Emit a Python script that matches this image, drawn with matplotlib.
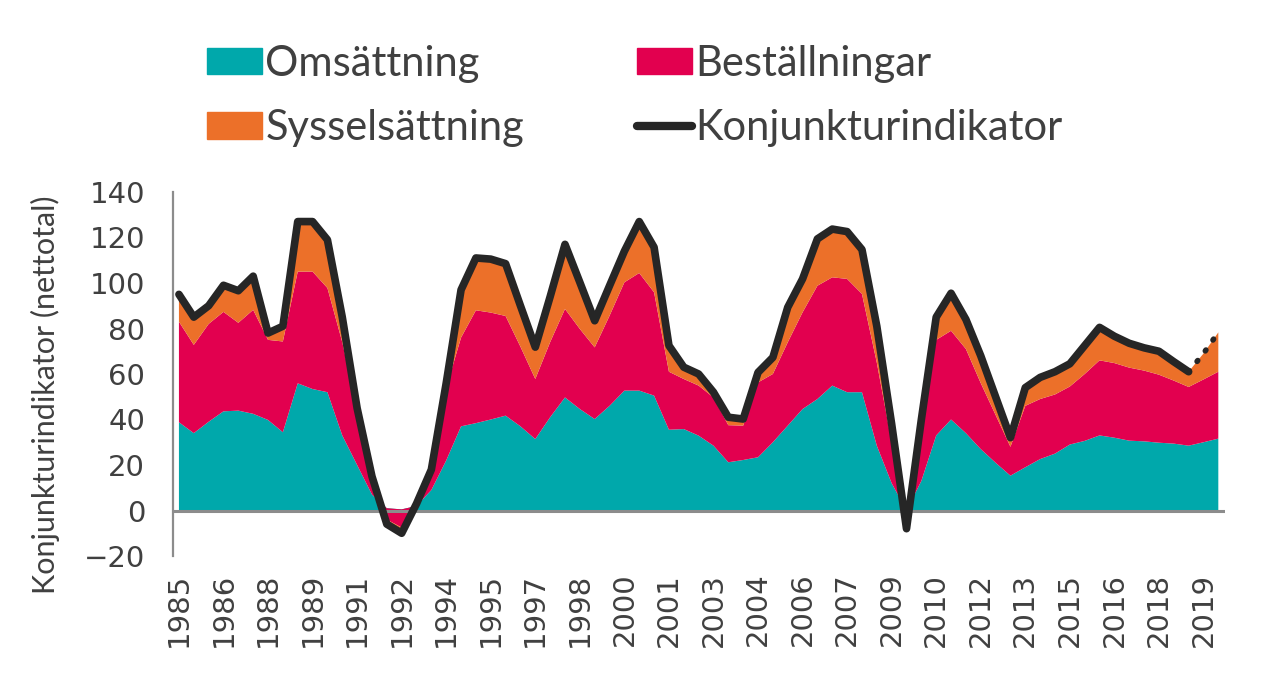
import numpy as np
import matplotlib.pyplot as plt
from matplotlib.patches import Patch
from matplotlib.lines import Line2D

plt.rcParams['font.family'] = ['Lato', 'DejaVu Sans']

# halvårsvärden 1985 H1 - 2020 H1 (nettotal)
omsattning = [38.8, 34, 39, 43.6, 43.9, 42.5, 39.8, 34.4, 55.9, 53.4,
              52, 33, 20, 7, 1, 0.5, 2, 9, 22, 37,
              38.4, 40, 41.7, 37, 31.4, 41, 49.7, 44.6, 40.2, 46,
              52.7, 52.7, 50.5, 35.5, 35.8, 32.9, 28.5, 21.2, 22.2, 23.4,
              30, 37.3, 44.6, 49, 54.9, 52, 52, 28.5, 12, 0,
              13, 33, 40, 34, 27, 21, 15.3, 19, 22.6, 25,
              29, 30.6, 33, 32, 30.7, 30.4, 29.8, 29.4, 28.5, 30,
              31.6]
bestallningar = [44.2, 38.8, 43, 43.7, 38.6, 45.7, 35.2, 39.9, 49.1, 51.6,
                 45.8, 41, 24, 7.5, -5, -8, 1, 7, 32, 39,
                 49.6, 47, 43.8, 35, 26.4, 33, 38.9, 35.2, 31.5, 39.6,
                 47.6, 51.7, 45.4, 25.5, 22, 22, 21.2, 16.3, 15.1, 32.9,
                 30, 36.6, 42.5, 49.8, 47.6, 49.8, 43.2, 36.5, 18, -5,
                 24, 42, 39, 37, 29, 21, 12.7, 27, 26.4, 26,
                 25.5, 29.4, 33, 32.8, 32.1, 31.1, 29.9, 27.7, 25.8, 27.6,
                 29.4]
sysselsattning = [12, 12.2, 8, 11.7, 14.1, 14.8, 3, 6.7, 22, 22,
                  21.2, 11, 1, 0.5, -2, -2.5, 0, 2, 2, 21,
                  23, 23.5, 23, 18, 14, 20, 28.4, 20.5, 11.7, 13.2,
                  13.7, 22.6, 19.8, 11.5, 5.2, 5.1, 2.3, 3.5, 2.9, 4.4,
                  7.3, 15.4, 14.7, 20.6, 21.2, 20.8, 19.5, 16, 8, -3,
                  3, 10, 16.5, 13, 12, 8, 4, 8, 9.5, 10,
                  10, 12.5, 14.5, 11.8, 10.7, 10, 10.3, 8.3, 6.7, 11.4,
                  17.3]
konjunktur = [95, 85, 90, 99, 96.6, 103, 78, 81, 127, 127,
              119, 85, 45, 15, -6, -10, 3, 18, 56, 97,
              111, 110.5, 108.5, 90, 71.8, 94, 117, 100.3, 83.4, 98.8,
              114, 127, 115.7, 72.5, 63, 60, 52, 41, 40.2, 60.7,
              67.3, 89.3, 101.8, 119.4, 123.7, 122.6, 114.7, 81, 38, -8,
              40, 85, 95.5, 84, 68, 50, 32, 54, 58.5, 61,
              64.5, 72.5, 80.5, 76.6, 73.5, 71.5, 70, 65.4, 61, 69,
              78.3]
ar_etiketter = ['1985', '1986', '1988', '1989', '1991', '1992', '1994', '1995',
                '1997', '1998', '2000', '2001', '2003', '2004', '2006', '2007',
                '2009', '2010', '2012', '2013', '2015', '2016', '2018', '2019']
namn = ['Omsättning', 'Beställningar', 'Sysselsättning', 'Konjunkturindikator']

teal = '#00A8AB'
rod = '#E2004F'
orange = '#EC7029'
svart = '#262626'
text_farg = '#404040'

fig = plt.figure(figsize=(12.61, 6.8), dpi=100)
ax = fig.add_axes([173/1261, 1 - 556/680, (1225 - 173)/1261, (556 - 192)/680])

x = np.arange(len(konjunktur))
ax.stackplot(x, omsattning, bestallningar, sysselsattning,
             colors=[teal, rod, orange], linewidth=0, zorder=2)
ax.axhline(0, color='#8c8c8c', lw=2.2, zorder=3)

# sista värdena prognos -> prickad linje
ax.plot(x[:69], konjunktur[:69], color=svart, lw=5.5,
        solid_joinstyle='round', solid_capstyle='round', zorder=4)
ax.plot(x[68:], konjunktur[68:], color=svart, lw=4,
        ls=(0, (0.2, 2.2)), dash_capstyle='round', zorder=4)

ax.set_xlim(-0.4, 70.45)
ax.set_ylim(-20, 140)
ax.set_yticks(np.arange(-20, 141, 20))
ax.set_xticks(x[::3])
ax.set_xticklabels(ar_etiketter, rotation=90)

for s in ['top', 'right', 'bottom']:
    ax.spines[s].set_visible(False)
ax.spines['left'].set_color('#8c8c8c')
ax.spines['left'].set_linewidth(1.6)

ax.tick_params(axis='y', length=0, pad=20, labelsize=21, labelcolor=text_farg)
ax.tick_params(axis='x', length=0, pad=12, labelsize=21, labelcolor=text_farg)
for t in ax.get_xticklabels() + ax.get_yticklabels():
    t.set_family('DejaVu Sans')

ax.set_ylabel('Konjunkturindikator (nettotal)', fontsize=22, color=text_farg)
ax.yaxis.set_label_coords(-0.107, 0.442)

handles = [Patch(color=teal), Patch(color=orange), Patch(color=rod),
           Line2D([0], [0], color=svart, lw=6, solid_capstyle='round')]
labels = [namn[0], namn[2], namn[1], namn[3]]
fig.legend(handles, labels, ncol=2, loc='center left',
           bbox_to_anchor=(207/1261, 1 - 96/680), frameon=False,
           fontsize=30, labelcolor=text_farg, handlelength=1.32,
           handleheight=0.6, handletextpad=0.08, columnspacing=2.7,
           labelspacing=0.63, borderpad=0, borderaxespad=0)

fig.savefig('out.png', dpi=100)
